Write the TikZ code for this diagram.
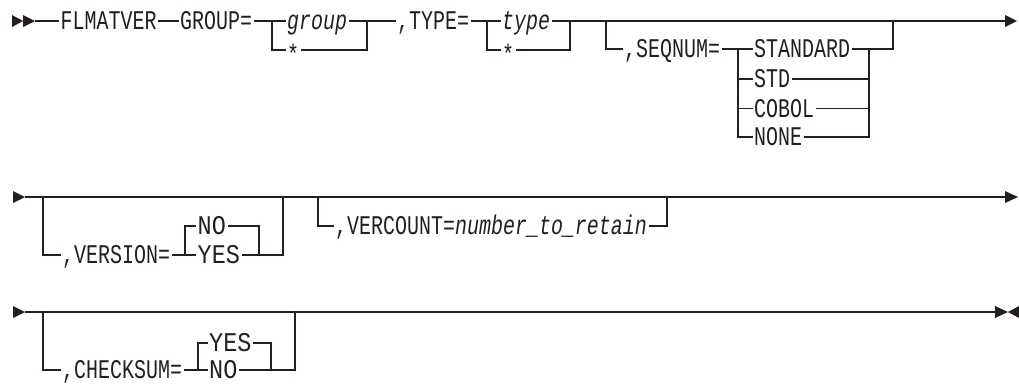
\documentclass[tikz,border=0pt]{standalone}
\usepackage{fontspec}
\newfontfamily\rrfont{Liberation Mono}[FakeStretch=0.74]
\newfontfamily\rrwide{Liberation Mono}[FakeStretch=0.87]
\newlength\rrcap
\settoheight{\rrcap}{\rrfont\fontsize{27}{27}\selectfont H}
\definecolor{ink}{RGB}{35,31,32}
\tikzset{
  rr/.style={draw=ink, line width=1.1pt},
  kw/.style={font=\rrfont\fontsize{27}{27}\selectfont, text=ink, inner xsep=1.5pt, inner ysep=0pt, text height=\rrcap, text depth=0pt, anchor=west},
  var/.style={kw, font=\rrfont\itshape\fontsize{27}{27}\selectfont},
  wide/.style={kw, font=\rrwide\fontsize{27}{27}\selectfont},
  tipfill/.style={fill=ink, draw=none}
}
\newcommand{\lowstar}{\raisebox{-5pt}{*}}
\begin{document}
\begin{tikzpicture}[x=1pt,y=-1pt]
\useasboundingbox (0,0) rectangle (1019,384);

% ---------------- row 1 ----------------
\fill[tipfill] (12,15) -- (23,21) -- (12,27) -- cycle;
\fill[tipfill] (23,15) -- (35,21) -- (23,27) -- cycle;
\coordinate (s1) at (35,21);
\node[kw] (fl) at (59,21) {FLMATVER};
\node[kw] (grp) at (178.5,21) {GROUP=};
\coordinate (g1) at (272,21);
\coordinate (g1b) at (272,50);
\node[var] (group) at (285.5,21) {group};
\node[kw] (gstar) at (285.5,50) {\lowstar};
\coordinate (g2) at (367,21);
\coordinate (g2b) at (367,50);
\node[kw] (typ) at (395.5,21) {,TYPE=};
\coordinate (t1) at (487,21);
\coordinate (t1b) at (487,50);
\node[var] (type) at (500.5,21) {type};
\node[kw] (tstar) at (500.5,50) {\lowstar};
\coordinate (t2) at (570,21);
\coordinate (t2b) at (570,50);
\coordinate (q1) at (606,21);
\coordinate (q1b) at (606,49);
\node[kw] (seq) at (622.5,49) {,SEQNUM=};
\coordinate (q2) at (738,49);
\coordinate (q2b) at (738,79);
\coordinate (q2c) at (738,108.5);
\coordinate (q2d) at (738,137);
\node[kw] (stdd) at (752.5,49) {STANDARD};
\node[kw] (std) at (752.5,79) {STD};
\node[kw] (cob) at (752.5,108.5) {COBOL};
\node[kw] (non) at (752.5,137) {NONE};
\coordinate (q3) at (869,49);
\coordinate (q3b) at (869,79);
\coordinate (q3c) at (869,108.5);
\coordinate (q3d) at (869,137);
\coordinate (q4b) at (893,49);
\coordinate (q4) at (893,21);
\coordinate (e1) at (1005,21);
\fill[tipfill] (1005,15) -- (1017,21) -- (1005,27) -- cycle;

\draw[rr] (s1) -- (fl.west);
\draw[rr] (fl.east) -- (grp.west);
\draw[rr] (grp.east) -- (g1) -- (group.west);
\draw[rr] (g1) -- (g1b) -- (gstar.west);
\draw[rr] (group.east) -- (g2) -- (typ.west);
\draw[rr] (gstar.east) -- (g2b) -- (g2);
\draw[rr] (typ.east) -- (t1) -- (type.west);
\draw[rr] (t1) -- (t1b) -- (tstar.west);
\draw[rr] (type.east) -- (t2) -- (e1);
\draw[rr] (tstar.east) -- (t2b) -- (t2);
\draw[rr] (q1) -- (q1b) -- (seq.west);
\draw[rr] (seq.east) -- (q2) -- (stdd.west);
\draw[rr] (q2) -- (q2d) -- (non.west);
\draw[rr] (q2b) -- (std.west);
\draw[rr] (q2c) -- (cob.west);
\draw[rr] (stdd.east) -- (q3) -- (q4b) -- (q4);
\draw[rr] (std.east) -- (q3b);
\draw[rr] (cob.east) -- (q3c);
\draw[rr] (non.east) -- (q3d) -- (q3);

% ---------------- row 2 ----------------
\fill[tipfill] (13,191) -- (25,197) -- (13,203) -- cycle;
\coordinate (s2) at (25,197);
\coordinate (e2) at (1005,197);
\coordinate (v1) at (43,197);
\coordinate (v1b) at (43,255);
\node[kw] (ver) at (60.5,255) {,VERSION=};
\coordinate (v2) at (185,255);
\coordinate (v2t) at (185,226);
\node[wide] (vno) at (196,226) {NO};
\node[wide] (vyes) at (196,255) {YES};
\coordinate (v3t) at (259,226);
\coordinate (v3) at (259,255);
\coordinate (v4b) at (283,255);
\coordinate (v4) at (283,197);
\coordinate (c1) at (318,197);
\coordinate (c1b) at (318,226);
\node[kw] (vc) at (333.5,226) {,VERCOUNT=\textit{number\_to\_retain}};
\coordinate (c2b) at (667,226);
\coordinate (c2) at (667,197);
\fill[tipfill] (1005,191) -- (1018,197) -- (1005,203) -- cycle;

\draw[rr] (s2) -- (e2);
\draw[rr] (v1) -- (v1b) -- (ver.west);
\draw[rr] (ver.east) -- (v2) -- (vyes.west);
\draw[rr] (v2) -- (v2t) -- (vno.west);
\draw[rr] (vno.east) -- (v3t) -- (v3);
\draw[rr] (vyes.east) -- (v3) -- (v4b) -- (v4);
\draw[rr] (c1) -- (c1b) -- (vc.west);
\draw[rr] (vc.east) -- (c2b) -- (c2);

% ---------------- row 3 ----------------
\fill[tipfill] (13,306) -- (25,312) -- (13,318) -- cycle;
\coordinate (s3) at (25,312);
\coordinate (e3) at (995,312);
\coordinate (k1) at (43,312);
\coordinate (k1b) at (43,370);
\node[kw] (cks) at (60.5,370) {,CHECKSUM=};
\coordinate (k2) at (198,370);
\coordinate (k2t) at (198,343);
\node[wide] (kyes) at (207.5,343) {YES};
\node[wide] (kno) at (207.5,370) {NO};
\coordinate (k3t) at (271,343);
\coordinate (k3) at (271,370);
\coordinate (k4b) at (295,370);
\coordinate (k4) at (295,312);
\coordinate (th1) at (302,312);
\coordinate (th2) at (323,312);
\fill[tipfill] (995,306) -- (1008,312) -- (995,318) -- cycle;
\fill[tipfill] (1019,306) -- (1008,312) -- (1019,318) -- cycle;

\draw[rr] (s3) -- (e3);
\draw[rr, line width=2.4pt] (th1) -- (th2);
\draw[rr] (k1) -- (k1b) -- (cks.west);
\draw[rr] (cks.east) -- (k2) -- (kno.west);
\draw[rr] (k2) -- (k2t) -- (kyes.west);
\draw[rr] (kyes.east) -- (k3t) -- (k3);
\draw[rr] (kno.east) -- (k3) -- (k4b) -- (k4);
\end{tikzpicture}
\end{document}
